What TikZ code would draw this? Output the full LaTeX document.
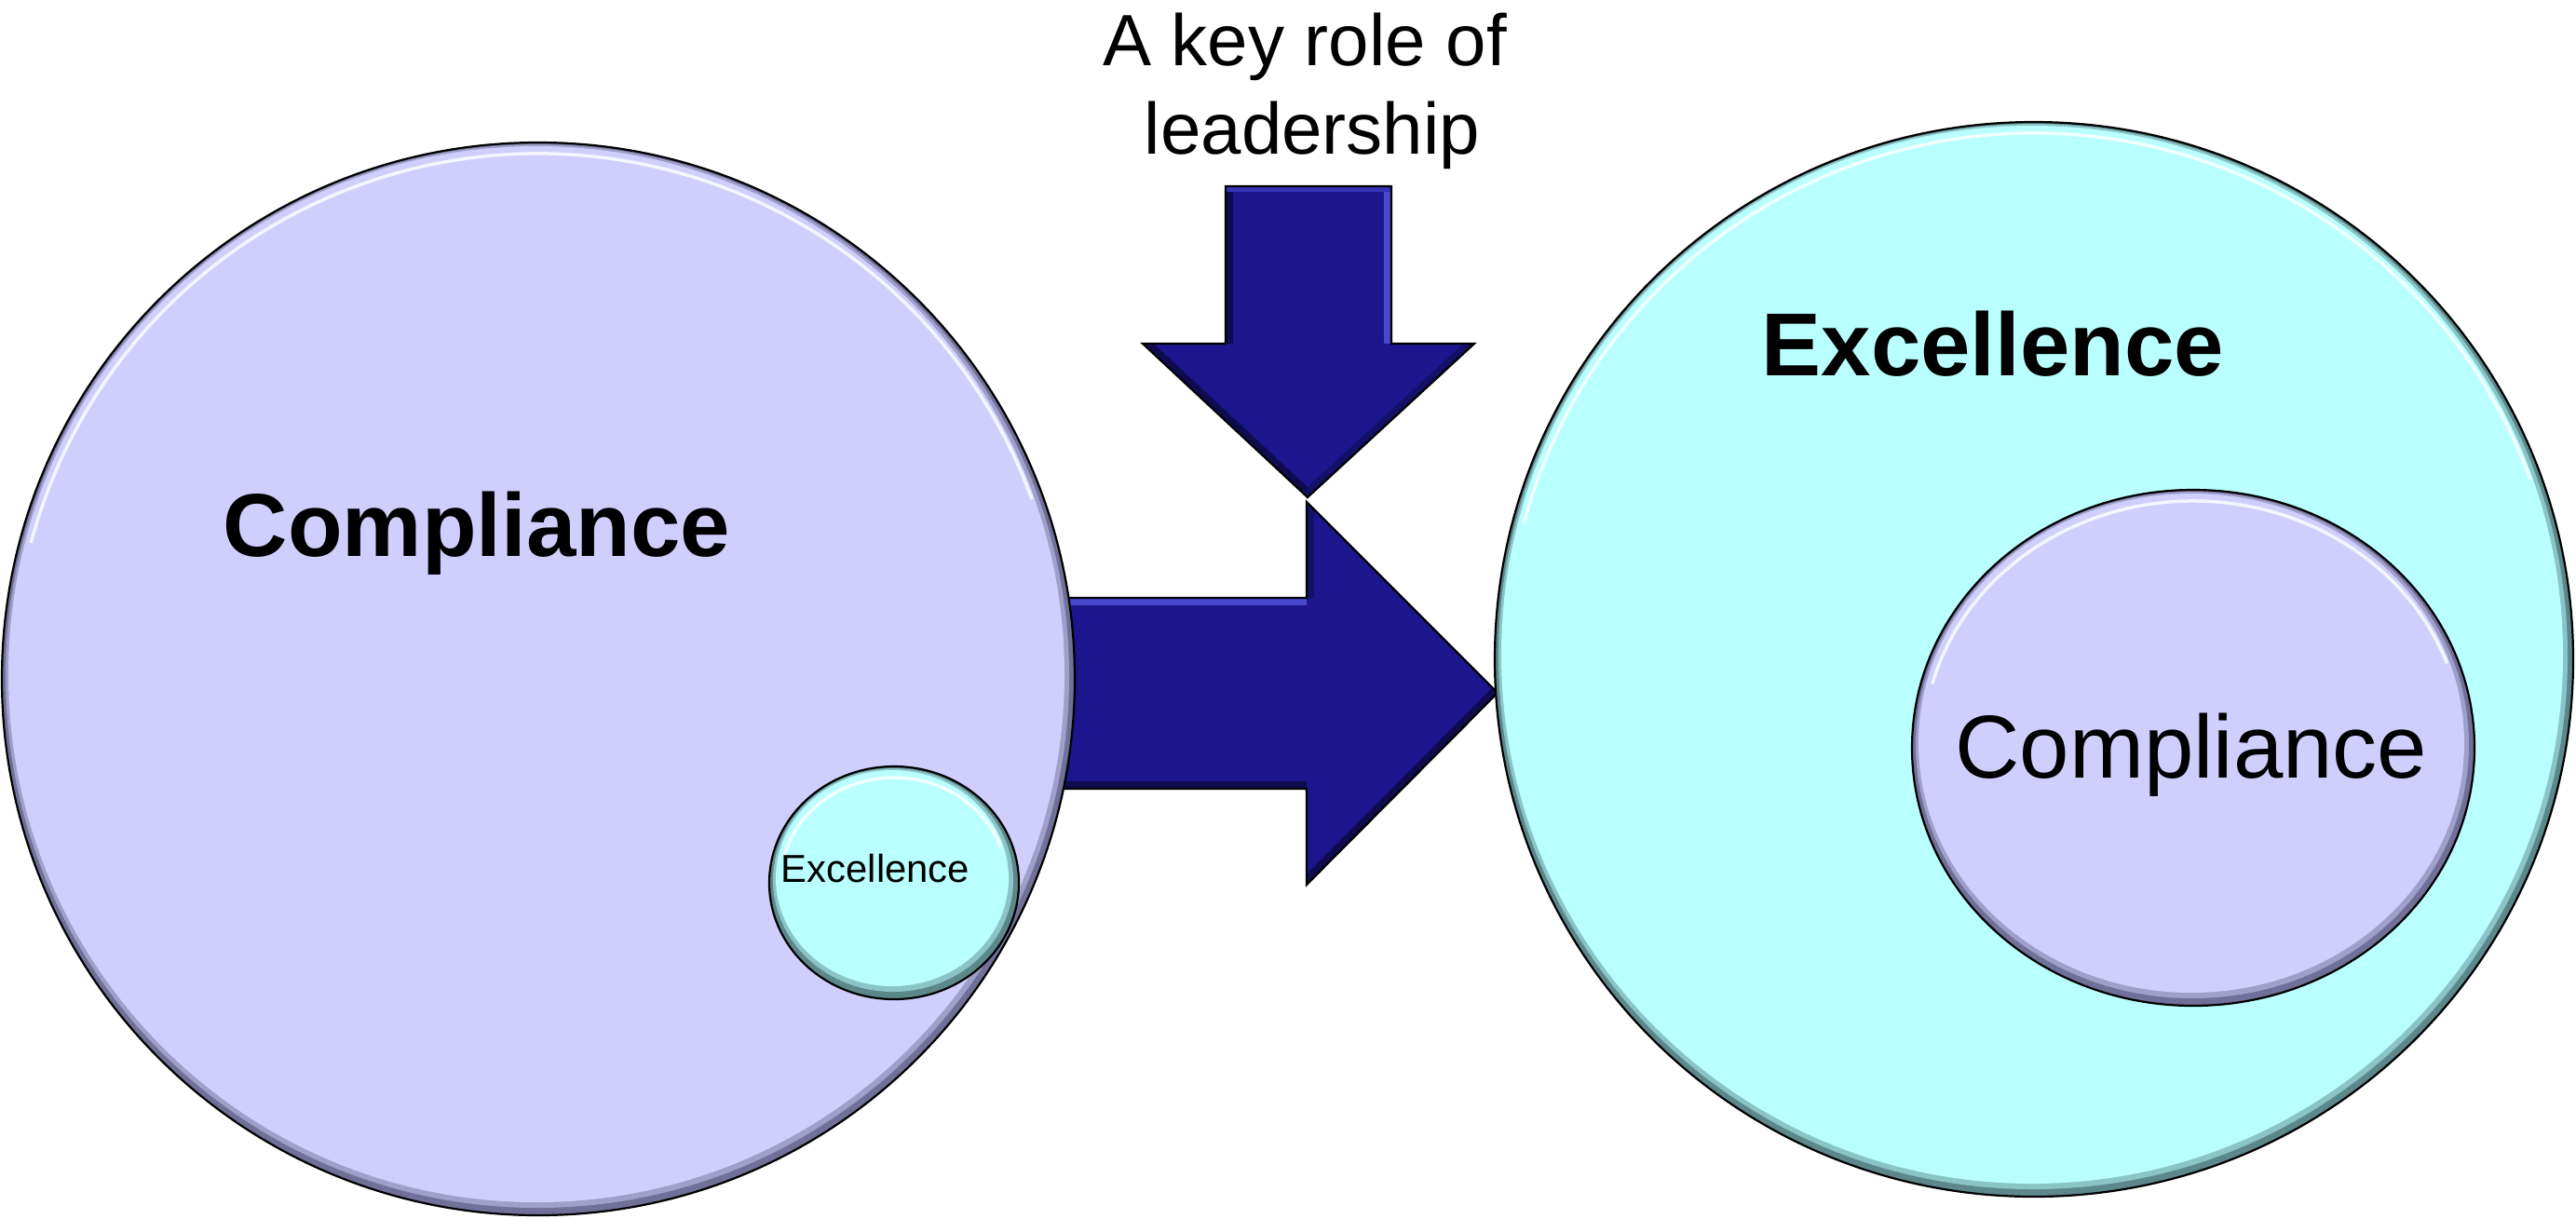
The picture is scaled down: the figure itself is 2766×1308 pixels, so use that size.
\documentclass[tikz,border=0pt]{standalone}
\usepackage{fontspec}
\setmainfont{Liberation Sans}
\definecolor{lavbase}{RGB}{207,206,253}
\definecolor{lavdark}{RGB}{112,112,152}
\definecolor{cyanbase}{RGB}{185,255,255}
\definecolor{cyandark}{RGB}{92,136,140}
\definecolor{navy}{RGB}{27,22,142}
\definecolor{navylight}{RGB}{72,72,205}
\definecolor{navydark}{RGB}{14,12,78}
\newcommand{\bevelball}[6]{%
  \begin{scope}
    \pgfmathsetmacro{\hrx}{#3-12}
    \pgfmathsetmacro{\hry}{#4-12}
    \begin{scope}
      \clip (#1,#2) ellipse [x radius=#3, y radius=#4];
      \fill[#6] (#1,#2) ellipse [x radius=#3, y radius=#4];
      \fill[#6!50!#5] ({#1-1},{#2+3}) ellipse [x radius=#3-5, y radius=#4-5];
      \fill[#5] ({#1-2},{#2+5}) ellipse [x radius=#3-9, y radius=#4-9];
    \end{scope}
    \draw[hilite] (#1,#2) ++(165:\hrx\space and \hry) arc[start angle=165, end angle=20, x radius=\hrx, y radius=\hry];
    \draw[ballline] (#1,#2) ellipse [x radius=#3, y radius=#4];
  \end{scope}}
\tikzset{
  hilite/.style={white, opacity=.8, line width=0.035cm},
  ballline/.style={black, line width=0.022cm},
  arrowfill/.style={fill=navy},
  arrowline/.style={draw=black, line width=0.022cm, line join=miter},
  bevlight/.style={navylight, line width=0.16cm},
  bevdark/.style={navydark, line width=0.16cm},
  bigtxt/.style={font=\fontsize{27.3}{32}\selectfont, anchor=base, inner sep=0pt},
  bigbold/.style={font=\bfseries\fontsize{27.3}{32}\selectfont, anchor=base, inner sep=0pt},
  leadtxt/.style={font=\fontsize{22.2}{27}\selectfont, anchor=base, inner sep=0pt},
  smalltxt/.style={font=\fontsize{11.9}{14}\selectfont, anchor=base, inner sep=0pt}
}
\begin{document}
\begin{tikzpicture}[x=0.01cm, y=0.01cm]
\useasboundingbox (0,0) rectangle (2766,-1308);
\fill[white] (0,0) rectangle (2766,-1308);

% right arrow
\coordinate (ra1) at (1000,-642);
\coordinate (ra2) at (1403,-642);
\coordinate (ra3) at (1403,-539);
\coordinate (ra4) at (1608,-744);
\coordinate (ra5) at (1403,-950);
\coordinate (ra6) at (1403,-847);
\coordinate (ra7) at (1000,-847);
\fill[arrowfill] (ra1) -- (ra2) -- (ra3) -- (ra4) -- (ra5) -- (ra6) -- (ra7) -- cycle;
\begin{scope}
  \clip (ra1) -- (ra2) -- (ra3) -- (ra4) -- (ra5) -- (ra6) -- (ra7) -- cycle;
  \draw[bevlight] (ra1) -- (ra2);
  \draw[bevdark] (ra6) -- (ra7);
  \draw[bevdark] (ra4) -- (ra5);
  \draw[navydark!60!navy, line width=0.16cm] (ra2) -- (ra3);
\end{scope}
\draw[arrowline] (ra1) -- (ra2) -- (ra3) -- (ra4) -- (ra5) -- (ra6) -- (ra7);

% down arrow
\coordinate (da1) at (1316,-200);
\coordinate (da2) at (1494,-200);
\coordinate (da3) at (1494,-369);
\coordinate (da4) at (1583,-369);
\coordinate (da5) at (1404,-534);
\coordinate (da6) at (1227,-369);
\coordinate (da7) at (1316,-369);
\fill[arrowfill] (da1) -- (da2) -- (da3) -- (da4) -- (da5) -- (da6) -- (da7) -- cycle;
\begin{scope}
  \clip (da1) -- (da2) -- (da3) -- (da4) -- (da5) -- (da6) -- (da7) -- cycle;
  \draw[bevlight] (da2) -- (da3);
  \draw[bevdark] (da7) -- (da1);
  \draw[bevdark] (da5) -- (da6);
  \draw[navydark!60!navy, line width=0.16cm] (da4) -- (da5);
  \draw[navylight!60!navy, line width=0.12cm] (da1) -- (da2);
\end{scope}
\draw[arrowline] (da1) -- (da2) -- (da3) -- (da4) -- (da5) -- (da6) -- (da7) -- cycle;

% circles
\coordinate (lc) at (578,-729);
\coordinate (sc) at (960,-948);
\coordinate (rc) at (2184,-708);
\coordinate (ic) at (2355,-803);
\bevelball{578}{-729}{576}{576}{lavbase}{lavdark}
\bevelball{960}{-948}{134}{125}{cyanbase}{cyandark}
\bevelball{2184}{-708}{579}{577}{cyanbase}{cyandark}
\bevelball{2355}{-803}{302}{277}{lavbase}{lavdark}

% texts
\node[leadtxt] (lead1) at (1401,-70) {A key role of};
\node[leadtxt] (lead2) at (1409,-165) {leadership};
\node[bigbold] (compL) at (512,-597) {Compliance};
\node[smalltxt] (excS) at (940,-947) {Excellence};
\node[bigbold] (excR) at (2140,-403) {Excellence};
\node[bigtxt] (compR) at (2353,-835) {Compliance};
\end{tikzpicture}
\end{document}
